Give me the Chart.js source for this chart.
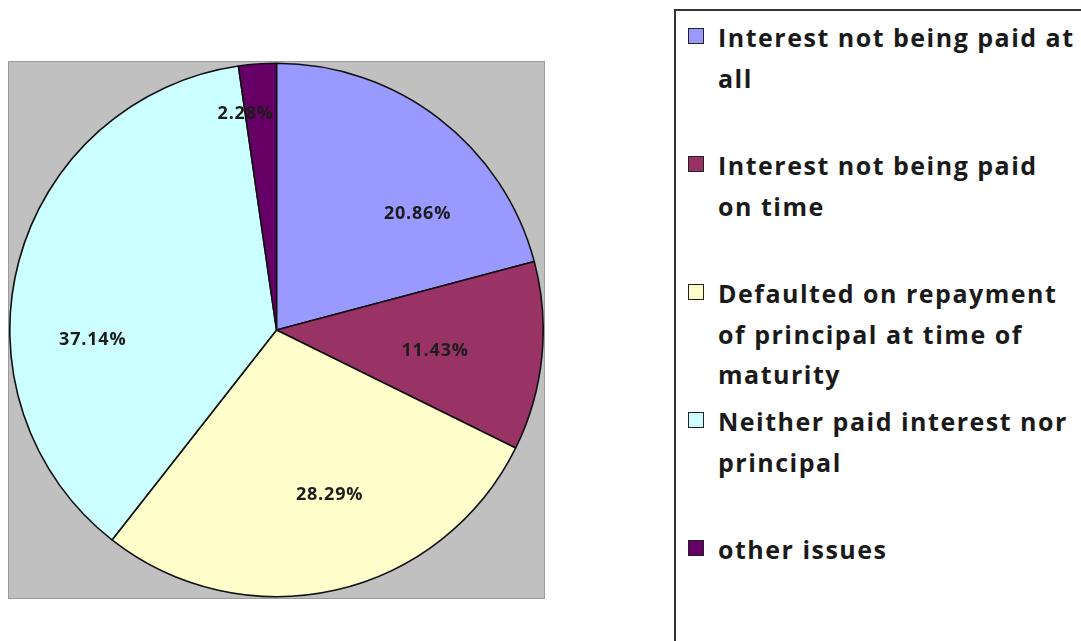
<!DOCTYPE html>
<html lang="en">
<head>
  <meta charset="UTF-8">
  <title>Default Issues</title>
  <script src="https://cdn.jsdelivr.net/npm/chart.js"></script>
  <style>
    body { margin: 0; background: #fff; width: 1081px; height: 641px; overflow: hidden; position: relative; font-family: "Open Sans", Lato, sans-serif; }
    #plot { position: absolute; left: 8px; top: 61px; width: 535px; height: 536px; background: #c0c0c0; border: 1px solid #9a9a9a; }
    #legend { position: absolute; left: 674px; top: 9px; width: 420px; height: 640px; border: 2px solid #333; box-sizing: border-box; }
    .item { position: absolute; left: 42px; width: 390px; font-weight: bold; font-size: 25px; letter-spacing: 1.5px; line-height: 40.5px; color: #1a1a1a; white-space: nowrap; }
    .box { position: absolute; left: -30px; top: 11px; width: 14px; height: 14px; border: 1.5px solid #222; }
  </style>
</head>
<body>
  <div id="plot"><canvas id="pie"></canvas></div>
  <div id="legend"></div>

  <script>
    // categories and their shares (percent)
    const labels = [
      'Interest not being paid at all',
      'Interest not being paid on time',
      'Defaulted on repayment of principal at time of maturity',
      'Neither paid interest nor principal',
      'other issues'
    ];
    const shares = [20.86, 11.43, 28.29, 37.14, 2.28];
    const colors = ['#9999ff', '#993366', '#ffffcc', '#ccffff', '#660066'];

    // legend text is wrapped the same way the old spreadsheet legend wrapped it
    const legendLines = [
      ['Interest not being paid at', 'all'],
      ['Interest not being paid', 'on time'],
      ['Defaulted on repayment', 'of principal at time of', 'maturity'],
      ['Neither paid interest nor', 'principal'],
      ['other issues']
    ];

    // where each percent label sits: turn from the slice middle (deg) and share of the radius
    const labelTurn = [13, 2, -5, -18, -4];
    const labelReach = [0.685, 0.6, 0.65, 0.69, 0.82];

    const legend = document.getElementById('legend');
    legendLines.forEach((lines, i) => {
      const div = document.createElement('div');
      div.className = 'item';
      div.style.top = (6 + i * 128) + 'px';
      div.innerHTML = `<span class="box" style="background:${colors[i]}"></span>` + lines.join('<br>');
      legend.appendChild(div);
    });

    const sliceLabels = {
      id: 'sliceLabels',
      afterDatasetsDraw(chart) {
        const ctx = chart.ctx;
        const meta = chart.getDatasetMeta(0);
        ctx.save();
        ctx.font = 'bold 18px "Open Sans", sans-serif';
        ctx.letterSpacing = '0.8px';
        ctx.fillStyle = '#1c1c1c';
        ctx.textAlign = 'center';
        ctx.textBaseline = 'middle';
        meta.data.forEach((arc, i) => {
          const p = arc.getProps(['x', 'y', 'startAngle', 'endAngle', 'outerRadius'], true);
          const a = (p.startAngle + p.endAngle) / 2 + labelTurn[i] * Math.PI / 180;
          const r = p.outerRadius * labelReach[i];
          ctx.fillText(shares[i].toFixed(2) + '%', p.x + Math.cos(a) * r, p.y + Math.sin(a) * r);
        });
        ctx.restore();
      }
    };

    new Chart(document.getElementById('pie'), {
      type: 'pie',
      data: {
        labels: labels,
        datasets: [{
          data: shares,
          backgroundColor: colors,
          borderColor: '#111',
          borderWidth: 1.6
        }]
      },
      options: {
        responsive: true,
        maintainAspectRatio: false,
        animation: false,
        layout: { padding: 0 },
        plugins: {
          legend: { display: false },
          tooltip: { enabled: false }
        }
      },
      plugins: [sliceLabels]
    });
  </script>
</body>
</html>
